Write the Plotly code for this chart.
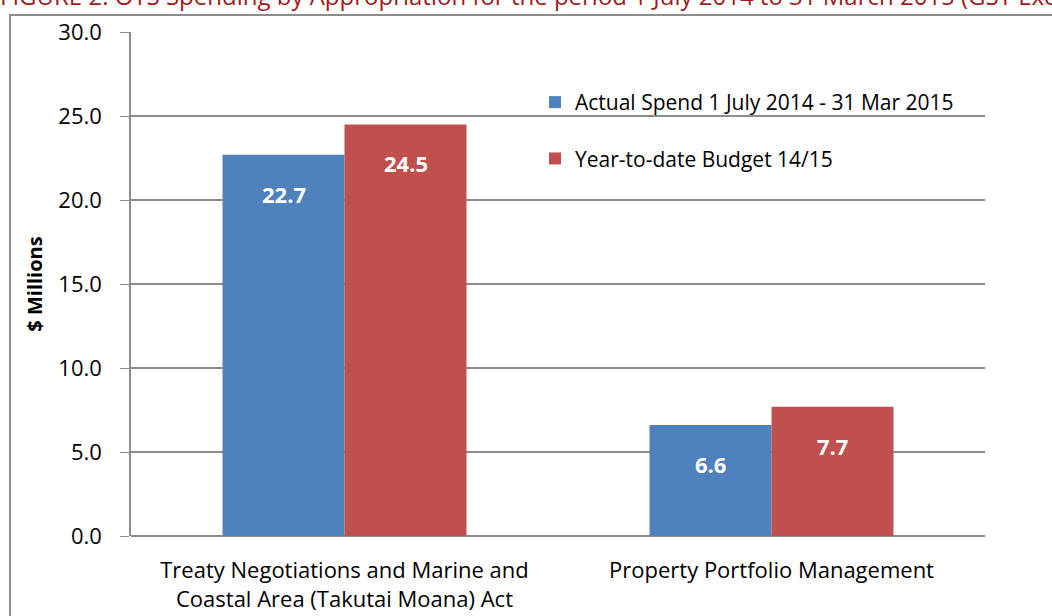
import plotly.graph_objects as go

categories = ["Treaty Negotiations and Marine and<br>Coastal Area (Takutai Moana) Act",
              "Property Portfolio Management"]
series_names = ["Actual Spend 1 July 2014 - 31 Mar 2015", "Year-to-date Budget 14/15"]
actual = [22.7, 6.6]
budget = [24.5, 7.7]
y_ticks = [0, 5, 10, 15, 20, 25, 30]
y_tick_labels = ["0.0", "5.0", "10.0", "15.0", "20.0", "25.0", "30.0"]
title_text = "FIGURE 2: OTS Spending by Appropriation for the period 1 July 2014 to 31 March 2015 (GST Exclusive)"

FONT = "Open Sans, sans-serif"
colors = ["#4F81BD", "#C0504D"]

L, R, T, B = 131, 67, 32, 80
W, H = 1052, 616
pw, ph = W - L - R, H - T - B

def px_to_paper_x(px):
    return (px - L) / pw

def px_to_paper_y(py):
    return (H - B - py) / ph

fig = go.Figure()
for i, (name, vals) in enumerate(zip(series_names, [actual, budget])):
    fig.add_trace(go.Bar(
        x=categories, y=vals, name=name,
        marker=dict(color=colors[i], line=dict(width=0)),
        legendgroup=f"g{i}",
        hoverinfo="y",
    ))
    for c, v in zip(categories, vals):
        fig.add_annotation(
            x=c, y=v, xref="x", yref="y", text=f"<b>{v:.1f}</b>",
            showarrow=False, xshift=(-61 if i == 0 else 61), yshift=-39,
            font=dict(family=FONT, size=22, color="white"),
        )

fig.add_annotation(
    x=px_to_paper_x(-2), y=px_to_paper_y(-5), xref="paper", yref="paper",
    text=title_text, showarrow=False,
    xanchor="left", yanchor="middle",
    font=dict(family=FONT, size=24, color="#A01C1C"),
)

fig.add_shape(type="rect", xref="paper", yref="paper",
              x0=px_to_paper_x(10), x1=px_to_paper_x(1070),
              y0=px_to_paper_y(640), y1=px_to_paper_y(15),
              line=dict(color="#8C8C8C", width=2), fillcolor="rgba(0,0,0,0)", layer="below")

fig.update_layout(
    width=W, height=H,
    margin=dict(l=L, r=R, t=T, b=B, pad=0, autoexpand=False),
    paper_bgcolor="white", plot_bgcolor="white",
    barmode="group", bargap=0.4286, bargroupgap=0,
    font=dict(family=FONT, size=21, color="black"),
    showlegend=True,
    legend=dict(
        x=px_to_paper_x(535), y=px_to_paper_y(82), xanchor="left", yanchor="top",
        bgcolor="rgba(0,0,0,0)", font=dict(family=FONT, size=21, color="black"),
        traceorder="grouped", tracegroupgap=26, itemwidth=30,
    ),
    xaxis=dict(showline=False, ticks="", tickfont=dict(family=FONT, size=22),
               showgrid=False, fixedrange=True, ticklabelstandoff=19, automargin=False),
    yaxis=dict(range=[0, 30], tickvals=y_ticks, ticktext=y_tick_labels,
               showgrid=True, gridcolor="#8C8C8C", gridwidth=1.5,
               showline=True, linecolor="#8C8C8C", linewidth=1.5,
               ticks="outside", ticklen=9, tickcolor="#8C8C8C",
               ticklabelstandoff=14, automargin=False,
               zeroline=True, zerolinecolor="#8C8C8C", zerolinewidth=1.5,
               title=dict(text="<b>$ Millions</b>", font=dict(family=FONT, size=20), standoff=10),
               tickfont=dict(family=FONT, size=22)),
)

fig.write_html("out.html")
